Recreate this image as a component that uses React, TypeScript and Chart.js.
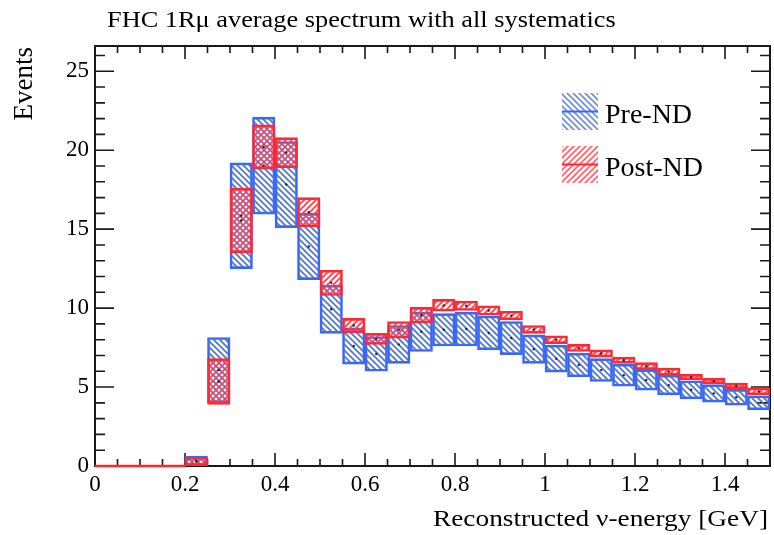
import React, { useEffect, useRef } from "react";
import { Chart, registerables } from "chart.js";

Chart.register(...registerables);

// ---------------- data ----------------
const binCenters = [
  0.225, 0.275, 0.325, 0.375, 0.425, 0.475, 0.525, 0.575, 0.625, 0.675,
  0.725, 0.775, 0.825, 0.875, 0.925, 0.975, 1.025, 1.075, 1.125, 1.175,
  1.225, 1.275, 1.325, 1.375, 1.425, 1.475,
];
const preLow = [
  0.02, 4.0, 12.5, 15.95, 15.1, 11.8, 8.4, 6.45, 6.0, 6.5,
  7.25, 7.6, 7.6, 7.35, 7.05, 6.5, 5.95, 5.65, 5.35, 5.05,
  4.8, 4.5, 4.25, 4.05, 3.85, 3.55,
];
const preHigh = [
  0.63, 8.14, 19.2, 22.1, 20.55, 16.0, 11.45, 8.75, 8.2, 8.9,
  9.75, 9.65, 9.75, 9.5, 9.15, 8.3, 7.65, 7.15, 6.8, 6.45,
  6.1, 5.75, 5.4, 5.15, 4.85, 4.45,
];
const postLow = [
  0.02, 3.9, 13.5, 18.8, 18.9, 15.15, 10.8, 8.45, 7.7, 8.1,
  9.05, 9.8, 9.85, 9.55, 9.25, 8.4, 7.75, 7.25, 6.9, 6.5,
  6.1, 5.75, 5.45, 5.2, 4.9, 4.5,
];
const postHigh = [
  0.55, 6.8, 17.6, 21.6, 20.8, 17.0, 12.4, 9.35, 8.4, 9.15,
  10.05, 10.55, 10.45, 10.15, 9.8, 8.9, 8.25, 7.7, 7.35, 6.9,
  6.55, 6.2, 5.8, 5.55, 5.25, 4.95,
];
const zeroLineX = [0, 0.2];
const zeroLineY = [0, 0];

const xTickValues = [0, 0.2, 0.4, 0.6, 0.8, 1.0, 1.2, 1.4];
const xTickLabels = ["0", "0.2", "0.4", "0.6", "0.8", "1", "1.2", "1.4"];
const yTickValues = [0, 5, 10, 15, 20, 25];
const yTickLabels = ["0", "5", "10", "15", "20", "25"];

const seriesNames = ["Pre-ND", "Post-ND"];
const titleText = "FHC 1R\u03bc average spectrum with all systematics";
const xTitleText = "Reconstructed \u03bd-energy [GeV]";
const yTitleText = "Events";

// ---------------- styles ----------------
const BLUE = "rgb(58,104,245)";
const BLUE_HATCH = "rgb(72,115,242)";
const RED = "rgb(255,40,50)";
const RED_HATCH = "rgb(255,62,70)";
const SERIF = "'Liberation Serif', 'DejaVu Serif', serif";

function makeHatch(ctx: CanvasRenderingContext2D, color: string, dir: "back" | "fwd") {
  const s = 6;
  const c = document.createElement("canvas");
  c.width = s;
  c.height = s;
  const g = c.getContext("2d")!;
  g.strokeStyle = color;
  g.lineWidth = 1.7;
  g.beginPath();
  if (dir === "back") {
    g.moveTo(-1, -1); g.lineTo(s + 1, s + 1);
    g.moveTo(-3, s - 3); g.lineTo(3, s + 3);
    g.moveTo(s - 3, -3); g.lineTo(s + 3, 3);
  } else {
    g.moveTo(-1, s + 1); g.lineTo(s + 1, -1);
    g.moveTo(-3, 3); g.lineTo(3, -3);
    g.moveTo(s - 3, s + 3); g.lineTo(s + 3, s - 3);
  }
  g.stroke();
  return ctx.createPattern(c, "repeat")!;
}

function drawFitted(
  ctx: CanvasRenderingContext2D,
  text: string,
  x: number,
  y: number,
  font: string,
  sx: number,
  align: "left" | "right"
) {
  ctx.save();
  ctx.font = font;
  ctx.textBaseline = "alphabetic";
  ctx.textAlign = align;
  ctx.translate(x, y);
  ctx.scale(sx, 1);
  ctx.fillText(text, 0, 0);
  ctx.restore();
}

export default function App() {
  const canvasRef = useRef<HTMLCanvasElement | null>(null);

  useEffect(() => {
    const canvas = canvasRef.current!;
    const ctx0 = canvas.getContext("2d")!;
    const blueHatch = makeHatch(ctx0, BLUE_HATCH, "back");
    const redHatch = makeHatch(ctx0, RED_HATCH, "fwd");

    const framePlugin = {
      id: "rootFrame",
      beforeDatasetsDraw(chart: any) {
        const { ctx, chartArea: a, scales } = chart;
        const xs = scales.x;
        const ys = scales.y;
        ctx.save();
        ctx.strokeStyle = "#1a1a1a";
        ctx.lineWidth = 1.6;
        ctx.beginPath();
        // x ticks (bottom & top)
        for (let k = 0; k <= 30; k++) {
          const v = k * 0.05;
          const px = xs.getPixelForValue(v);
          const major = k % 4 === 0;
          const len = major ? 13 : 7;
          ctx.moveTo(px, a.bottom);
          ctx.lineTo(px, a.bottom - len);
          ctx.moveTo(px, a.top);
          ctx.lineTo(px, a.top + len);
        }
        // y ticks (left & right)
        for (let k = 0; k <= 26; k++) {
          const py = ys.getPixelForValue(k);
          const major = k % 5 === 0;
          const len = major ? 19 : 10;
          ctx.moveTo(a.left, py);
          ctx.lineTo(a.left + len, py);
          ctx.moveTo(a.right, py);
          ctx.lineTo(a.right - len, py);
        }
        ctx.stroke();
        ctx.lineWidth = 2;
        ctx.strokeRect(a.left, a.top, a.right - a.left, a.bottom - a.top);
        ctx.restore();
      },
      afterDraw(chart: any) {
        const { ctx } = chart;
        ctx.save();
        ctx.fillStyle = "#000";
        // title
        ctx.font = `23px ${SERIF}`;
        const pre = ctx.measureText("FHC 1R\u03bc average s").width;
        const tsx = 208 / pre;
        drawFitted(ctx, titleText, 107, 27, `23px ${SERIF}`, tsx, "left");
        // x title
        ctx.font = `22.5px ${SERIF}`;
        const xw = ctx.measureText(xTitleText).width;
        drawFitted(ctx, xTitleText, 768, 526, `22.5px ${SERIF}`, 335 / xw, "right");
        // y title
        ctx.save();
        ctx.translate(32, 47);
        ctx.rotate(-Math.PI / 2);
        ctx.font = `27px ${SERIF}`;
        ctx.textAlign = "right";
        ctx.textBaseline = "alphabetic";
        ctx.fillText(yTitleText, 0, 0);
        ctx.restore();

        // legend
        const entries = [
          { name: seriesNames[0], pat: blueHatch, col: BLUE, top: 93, base: 123 },
          { name: seriesNames[1], pat: redHatch, col: RED, top: 146, base: 176 },
        ];
        for (const e of entries) {
          const bx = 562, bw = 36, bh = 37;
          ctx.save();
          ctx.globalAlpha = 0.8;
          ctx.fillStyle = e.pat;
          ctx.fillRect(bx, e.top, bw, bh);
          ctx.restore();
          ctx.strokeStyle = e.col;
          ctx.lineWidth = 2.2;
          ctx.beginPath();
          ctx.moveTo(bx, e.top + bh / 2);
          ctx.lineTo(bx + bw, e.top + bh / 2);
          ctx.stroke();
          ctx.fillStyle = "#000";
          ctx.font = `28px ${SERIF}`;
          ctx.textAlign = "left";
          ctx.textBaseline = "alphabetic";
          ctx.fillText(e.name, 605, e.base);
        }
        ctx.restore();
      },
    };

    const chart = new Chart(canvas, {
      type: "bar",
      data: {
        datasets: [
          {
            type: "line",
            label: "nominal",
            data: zeroLineX.map((x, i) => ({ x, y: zeroLineY[i] })),
            borderColor: RED,
            borderWidth: 2.4,
            pointRadius: 0,
            clip: false,
            order: 0,
          } as any,
          {
            type: "scatter",
            label: "centres",
            data: [
              ...binCenters.map((c, i) => ({ x: c, y: (preLow[i] + preHigh[i]) / 2 })),
              ...binCenters.map((c, i) => ({ x: c, y: (postLow[i] + postHigh[i]) / 2 })),
            ],
            pointRadius: 1.2,
            pointBackgroundColor: "#222",
            pointBorderWidth: 0,
            order: 1,
          } as any,
          {
            type: "bar",
            label: seriesNames[1],
            data: binCenters.map((c, i) => ({ x: c, y: [postLow[i], postHigh[i]] })),
            backgroundColor: redHatch,
            borderColor: RED,
            borderWidth: 2,
            borderSkipped: false,
            grouped: false,
            barPercentage: 1,
            categoryPercentage: 1,
            order: 2,
          } as any,
          {
            type: "bar",
            label: seriesNames[0],
            data: binCenters.map((c, i) => ({ x: c, y: [preLow[i], preHigh[i]] })),
            backgroundColor: blueHatch,
            borderColor: BLUE,
            borderWidth: 2,
            borderSkipped: false,
            grouped: false,
            barPercentage: 1,
            categoryPercentage: 1,
            order: 3,
          } as any,
        ],
      },
      options: {
        responsive: false,
        animation: false,
        events: [],
        layout: { padding: { left: 0, right: 4, top: 46, bottom: 0 } },
        plugins: {
          legend: { display: false },
          tooltip: { enabled: false },
          title: { display: false },
        },
        scales: {
          x: {
            type: "linear",
            min: 0,
            max: 1.5,
            offset: false,
            grid: { display: false, drawTicks: false, offset: false },
            border: { display: false },
            afterBuildTicks: (s: any) => {
              s.ticks = xTickValues.map((v) => ({ value: v }));
            },
            afterFit: (s: any) => {
              s.height = 69;
            },
            ticks: {
              padding: 5,
              color: "#000",
              maxRotation: 0,
              autoSkip: false,
              font: { family: SERIF, size: 23 },
              callback: (_v: any, i: number) => xTickLabels[i],
            },
          },
          y: {
            type: "linear",
            min: 0,
            max: 26.6,
            grid: { display: false, drawTicks: false },
            border: { display: false },
            afterBuildTicks: (s: any) => {
              s.ticks = yTickValues.map((v) => ({ value: v }));
            },
            afterFit: (s: any) => {
              s.width = 95;
            },
            ticks: {
              padding: 6,
              color: "#000",
              autoSkip: false,
              font: { family: SERIF, size: 23 },
              callback: (_v: any, i: number) => yTickLabels[i],
            },
          },
        },
      } as any,
      plugins: [framePlugin],
    });

    return () => chart.destroy();
  }, []);

  return (
    <div style={{ position: "fixed", left: 0, top: 0, width: 774, height: 535, background: "#fff" }}>
      <canvas ref={canvasRef} width={774} height={535} style={{ display: "block" }} />
    </div>
  );
}
